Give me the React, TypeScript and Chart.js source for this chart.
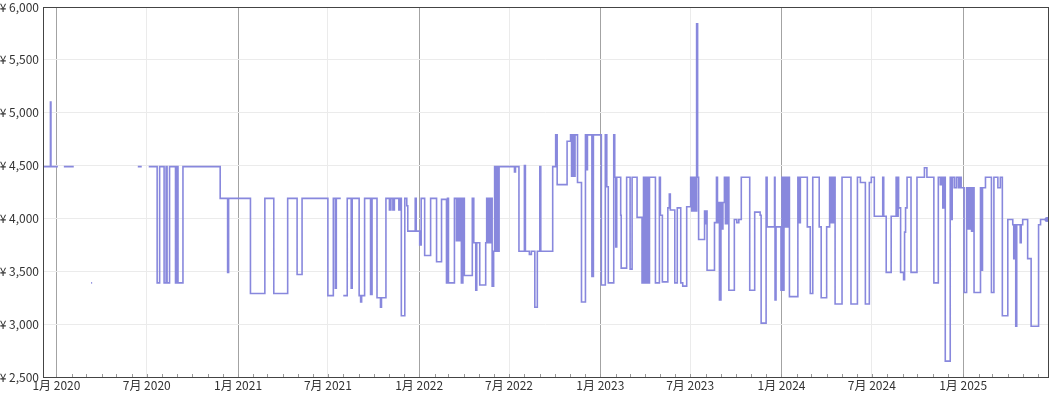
import React, { useEffect, useRef } from "react";
import { Chart, registerables } from "chart.js";

Chart.register(...registerables);

// Time axis: days counted from 1 Jan 2020
const START = Date.UTC(2020, 0, 1);
const DAY = 86400000;
const X_MIN = -27;
const X_MAX = 1998;

// Y axis range (JPY)
const Y_MIN = 2500;
const Y_MAX = 6000;
const Y_STEP = 500;

// Price history (step line). null = no data (gap)
const days: number[] = [
  -27, -12, -11, 3, 4, 15, 35, 36, 70, 72, 73, 164, 172, 174,
  186, 203, 208, 217, 221, 223, 228, 240, 243, 245, 255, 330, 345, 347,
  391, 420, 438, 466, 485, 495, 547, 558, 562, 564, 573, 574, 578, 586,
  594, 596, 610, 613, 615, 621, 633, 636, 646, 653, 655, 664, 671, 674,
  678, 681, 690, 693, 695, 702, 706, 708, 723, 725, 732, 735, 742, 754,
  766, 776, 786, 788, 790, 802, 806, 808, 811, 813, 816, 819, 822, 838,
  841, 845, 847, 853, 865, 867, 869, 872, 875, 877, 878, 881, 883, 885,
  887, 889, 892, 923, 925, 932, 943, 945, 953, 957, 964, 969, 974, 976,
  1000, 1006, 1009, 1029, 1036, 1038, 1040, 1043, 1045, 1050, 1058, 1066, 1068, 1070,
  1079, 1082, 1098, 1106, 1109, 1112, 1123, 1125, 1127, 1129, 1137, 1138, 1149, 1156,
  1160, 1170, 1180, 1183, 1186, 1189, 1192, 1195, 1207, 1215, 1217, 1221, 1232, 1235,
  1237, 1246, 1251, 1258, 1262, 1270, 1278, 1280, 1282, 1284, 1286, 1289, 1290, 1292,
  1294, 1306, 1308, 1309, 1311, 1326, 1330, 1332, 1333, 1336, 1339, 1341, 1343, 1346,
  1348, 1350, 1352, 1354, 1355, 1366, 1371, 1375, 1380, 1397, 1407, 1418, 1420, 1430,
  1432, 1447, 1448, 1450, 1460, 1462, 1464, 1466, 1468, 1470, 1472, 1474, 1477, 1494,
  1497, 1499, 1513, 1519, 1524, 1537, 1541, 1552, 1558, 1560, 1562, 1564, 1566, 1569,
  1583, 1601, 1614, 1620, 1630, 1638, 1642, 1648, 1665, 1667, 1672, 1682, 1692, 1694,
  1696, 1697, 1701, 1707, 1709, 1711, 1714, 1722, 1734, 1749, 1754, 1768, 1777, 1781,
  1783, 1786, 1788, 1791, 1801, 1803, 1805, 1809, 1813, 1817, 1820, 1823, 1829, 1834,
  1836, 1838, 1840, 1842, 1844, 1846, 1849, 1862, 1864, 1866, 1872, 1884, 1889, 1897,
  1902, 1906, 1917, 1927, 1929, 1931, 1933, 1935, 1942, 1944, 1947, 1957, 1964, 1979,
  1983, 1996,
];

const prices: (number | null)[] = [
  4490, 5100, 4490, 4490, null, 4490, 4490, null, 3390, 3390, null, 4490, 4490, null,
  4490, 3390, 4490, 3390, 4490, 3390, 4490, 3390, 4490, 3390, 4490, 4190, 3490, 4190,
  3290, 4190, 3290, 4190, 3470, 4190, 3270, 4190, 3340, 4190, 4190, null, 3270, 4190,
  3340, 4190, 3270, 3210, 3270, 4190, 3280, 4190, 3250, 3160, 3250, 4190, 4080, 4190,
  4080, 4190, 4080, 4190, 3080, 4190, 4120, 3880, 4190, 3880, 3750, 4190, 3650, 4190,
  3590, 4180, 3390, 4190, 3390, 4190, 3790, 4190, 3790, 4190, 3390, 4190, 3460, 4190,
  3770, 3320, 3770, 3370, 3770, 4190, 3770, 4190, 3770, 4190, 3360, 3690, 4490, 3690,
  4490, 3690, 4490, 4440, 4490, 3690, 4500, 3690, 3660, 3690, 3160, 3690, 4490, 3690,
  4490, 4790, 4320, 4730, 4790, 4400, 4790, 4400, 4790, 4340, 3210, 4790, 4460, 4790,
  3450, 4790, 3370, 4790, 4300, 3390, 4790, 4390, 3730, 4390, 4030, 3530, 4390, 3520,
  4390, 4010, 3390, 4390, 3390, 4390, 3390, 4390, 3390, 4390, 4030, 3400, 4100, 4230,
  4080, 3390, 4100, 3390, 3360, 4110, 4390, 4070, 4390, 4070, 4390, 4070, 5840, 4390,
  3800, 4070, 3950, 4070, 3510, 3960, 4390, 3960, 4150, 3230, 4150, 3900, 4150, 4390,
  3950, 4390, 3950, 4390, 3320, 3990, 3960, 3990, 4390, 3320, 4060, 4030, 3010, 4390,
  3920, 4390, 3230, 3920, 3320, 4390, 3320, 4390, 3920, 4390, 3920, 4390, 3260, 4390,
  3960, 4390, 3920, 3290, 4390, 3920, 3250, 3920, 4390, 3960, 4390, 3960, 4390, 3190,
  4390, 3190, 4390, 4340, 3190, 4340, 4390, 4020, 4390, 4020, 3490, 4020, 4390, 4020,
  4390, 4100, 3490, 3420, 3870, 4100, 4390, 3490, 4390, 4480, 4390, 3390, 4390, 4320,
  4390, 4100, 4390, 2650, 4390, 3990, 4390, 4290, 4390, 4290, 4390, 4290, 3300, 4290,
  3900, 4290, 3900, 4290, 3880, 4290, 3300, 4290, 3510, 4290, 4390, 3300, 4390, 4290,
  4390, 3080, 3990, 3940, 3620, 3940, 2980, 3940, 3770, 3940, 3990, 3620, 2980, 3940,
  3990, 3990,
];

const LINE_COLOR = "#8888dd";
const FONT = "'Noto Sans CJK JP', 'Noto Sans', sans-serif";

type MonthTick = { value: number; year: number; month: number };
function buildMonthTicks(): MonthTick[] {
  const out: MonthTick[] = [];
  for (let y = 2019; y <= 2025; y++) {
    for (let m = 0; m < 12; m++) {
      const d = (Date.UTC(y, m, 1) - START) / DAY;
      if (d >= X_MIN && d <= X_MAX) out.push({ value: d, year: y, month: m });
    }
  }
  return out;
}
const MONTH_TICKS = buildMonthTicks();
const MONTH_MAP = new Map<number, MonthTick>(MONTH_TICKS.map((t) => [t.value, t]));

const framePlugin = {
  id: "frame",
  afterDraw(chart: any) {
    const { ctx, chartArea } = chart;
    const xs = chart.scales.x;
    ctx.save();
    ctx.strokeStyle = "#999";
    ctx.lineWidth = 1;
    for (const t of MONTH_TICKS) {
      const px = Math.round(xs.getPixelForValue(t.value)) + 0.5;
      ctx.beginPath();
      ctx.moveTo(px, chartArea.bottom - 3);
      ctx.lineTo(px, chartArea.bottom);
      ctx.stroke();
    }
    ctx.strokeStyle = "#444";
    ctx.strokeRect(
      Math.round(chartArea.left) + 0.5,
      Math.round(chartArea.top) + 0.5,
      Math.round(chartArea.right - chartArea.left),
      Math.round(chartArea.bottom - chartArea.top)
    );
    ctx.restore();
  },
};

export default function App() {
  const ref = useRef<HTMLCanvasElement | null>(null);

  useEffect(() => {
    if (!ref.current) return;
    const points = days.map((d, i) => ({ x: d, y: prices[i] }));
    const last = points.length - 1;
    const chart = new Chart(ref.current, {
      type: "line",
      data: {
        datasets: [
          {
            data: points as any,
            borderColor: LINE_COLOR,
            backgroundColor: LINE_COLOR,
            borderWidth: 1.6,
            stepped: true,
            spanGaps: false,
            fill: false,
            pointRadius: (c: any) => (c.dataIndex === last ? 2.5 : 0),
            pointBorderWidth: 0,
            pointHoverRadius: 0,
          },
        ],
      },
      options: {
        animation: false,
        responsive: false,
        devicePixelRatio: 1,
        parsing: false as any,
        normalized: true,
        layout: { padding: { top: 7, right: 5, left: 0, bottom: 0 } },
        plugins: { legend: { display: false }, tooltip: { enabled: false } },
        scales: {
          x: {
            type: "linear",
            min: X_MIN,
            max: X_MAX,
            afterBuildTicks: (scale: any) => {
              scale.ticks = MONTH_TICKS.map((t) => ({ value: t.value }));
            },
            afterFit: (scale: any) => {
              scale.height = 16;
              scale.paddingLeft = 0;
              scale.paddingRight = 0;
            },
            border: { display: false },
            grid: {
              drawTicks: false,
              color: (c: any) => {
                const t = MONTH_MAP.get(c.tick?.value);
                if (!t) return "rgba(0,0,0,0)";
                if (t.month === 0) return "#a3a3a3";
                if (t.month === 6) return "#ebebeb";
                return "rgba(0,0,0,0)";
              },
              lineWidth: 1,
            },
            ticks: {
              autoSkip: false,
              maxRotation: 0,
              minRotation: 0,
              padding: 1,
              color: "#333",
              font: { family: FONT, size: 12 },
              callback: (v: any) => {
                const t = MONTH_MAP.get(Number(v));
                if (!t) return "";
                if (t.month === 0) return "1月 " + t.year;
                if (t.month === 6) return "7月 " + t.year;
                return "";
              },
            },
          },
          y: {
            type: "linear",
            min: Y_MIN,
            max: Y_MAX,
            afterFit: (scale: any) => {
              scale.width = 43;
              scale.paddingTop = 0;
              scale.paddingBottom = 0;
            },
            border: { display: false },
            grid: { drawTicks: false, color: "#ebebeb", lineWidth: 1 },
            ticks: {
              stepSize: Y_STEP,
              padding: 4,
              color: "#333",
              font: { family: FONT, size: 12 },
              callback: (v: any) => "¥ " + Number(v).toLocaleString("en-US"),
            },
          },
        },
      },
      plugins: [framePlugin],
    });
    return () => chart.destroy();
  }, []);

  return (
    <div style={{ position: "fixed", left: 0, top: 0, width: 1053, height: 393, background: "#fff" }}>
      <canvas ref={ref} width={1053} height={393} style={{ display: "block" }} />
    </div>
  );
}
